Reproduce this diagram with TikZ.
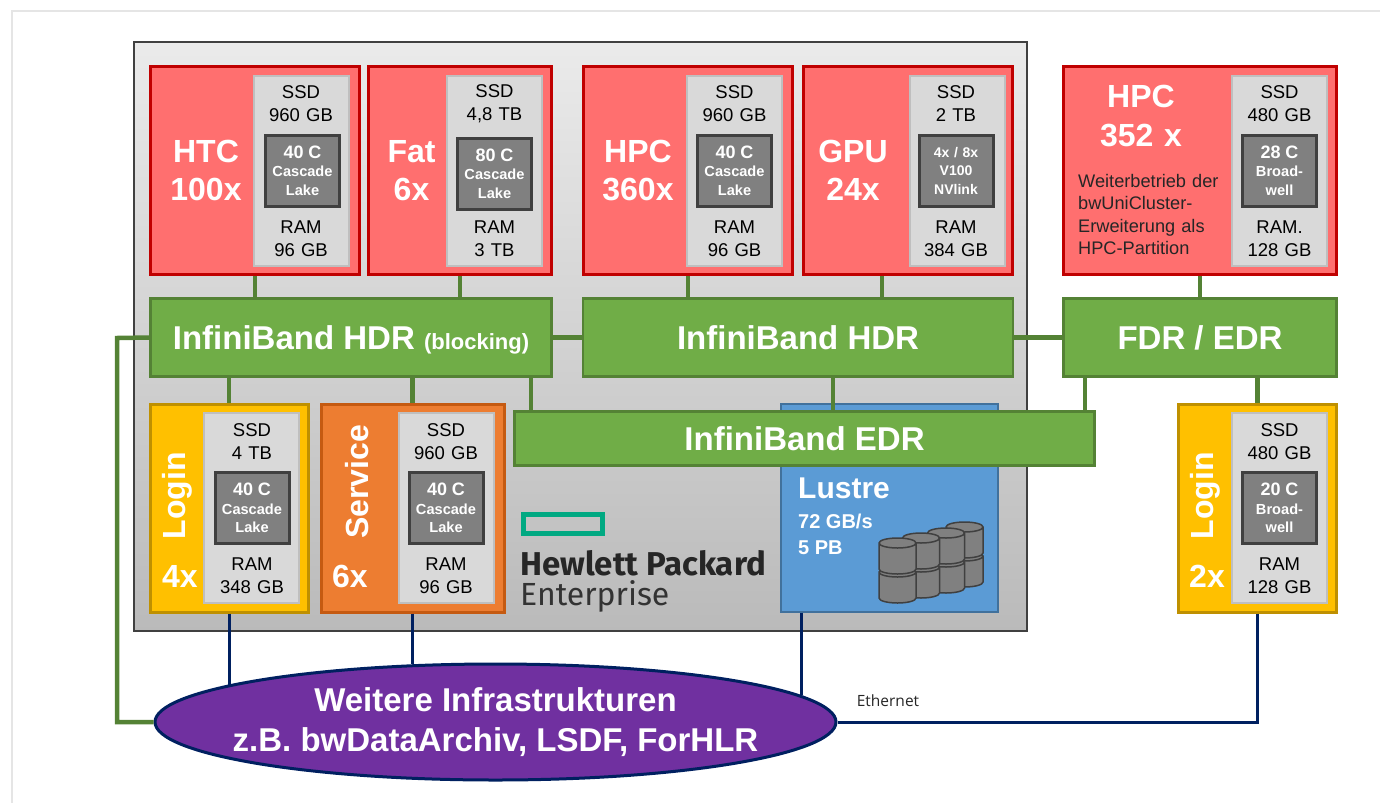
\documentclass[tikz,border=0pt]{standalone}
\usepackage{fontspec}
\setmainfont{Liberation Sans}
\newfontfamily\hpefont{Fira Sans}
\newfontfamily\noteFont{Open Sans}
\usepackage{xcolor}
\usepackage{tikz}
\usetikzlibrary{shapes,arrows}
\definecolor{redFill}{HTML}{FF6F6F}
\definecolor{redEdge}{HTML}{C00000}
\definecolor{greenFill}{HTML}{70AD47}
\definecolor{greenEdge}{HTML}{548235}
\definecolor{navyEdge}{HTML}{002060}
\definecolor{hpeGreen}{HTML}{01A982}
\definecolor{yellowFill}{HTML}{FFC000}
\definecolor{yellowEdge}{HTML}{BF9000}
\definecolor{orangeFill}{HTML}{ED7D31}
\definecolor{orangeEdge}{HTML}{C55A11}
\definecolor{blueFill}{HTML}{5B9BD5}
\definecolor{blueEdge}{HTML}{41719C}
\definecolor{purpleFill}{HTML}{7030A0}
\tikzstyle{rednode} = [rectangle, draw=redEdge, fill=redFill, line width=3pt,
    minimum width=209pt, minimum height=208pt, inner sep=0pt]
\tikzstyle{loginnode} = [rectangle, draw=yellowEdge, fill=yellowFill, line width=3pt,
    minimum width=158pt, minimum height=208pt, inner sep=0pt]
\tikzstyle{panel} = [rectangle, draw=black!25, fill=black!15, line width=2pt,
    minimum width=95pt, minimum height=190pt, inner sep=0pt]
\tikzstyle{cpu} = [rectangle, draw=black!75, fill=black!50, line width=3pt, text=white,
    minimum width=74pt, minimum height=71pt, inner sep=0pt, text width=74pt, text centered,
    font=\fontsize{14.6}{18.5}\selectfont\bfseries]
\tikzstyle{memtext} = [text width=90pt, text centered, inner sep=0pt,
    font=\fontsize{18.5}{23}\selectfont]
\tikzstyle{bigtext} = [text=white, text width=120pt, text centered, inner sep=0pt,
    font=\fontsize{32}{38.5}\selectfont\bfseries]
\tikzstyle{greenblock} = [rectangle, draw=greenEdge, fill=greenFill, line width=2.5pt, text=white,
    inner sep=0pt, text height=24pt, text depth=0pt, font=\fontsize{33}{38}\selectfont\bfseries]
\tikzstyle{disk} = [draw=black!75, fill=black!50, line width=1.5pt]
\tikzstyle{line} = [draw=greenEdge, line width=4.5pt]
\tikzstyle{navyline} = [draw=navyEdge, line width=3pt]
\newcommand{\corecount}[1]{{\fontsize{18}{18}\selectfont #1}}
\newcommand{\drum}[2]{\path [disk, shift={(#1,#2)}] (-18.5,-13) -- (-18.5,13)
    arc [start angle=180, end angle=360, x radius=18.5pt, y radius=5pt] -- (18.5,-13)
    arc [start angle=0, end angle=180, x radius=18.5pt, y radius=5pt] -- cycle
    (-18.5,-13) arc [start angle=180, end angle=360, x radius=18.5pt, y radius=5pt];}

\begin{document}
\begin{tikzpicture}[x=1pt, y=-1pt]
	\useasboundingbox (0,0) rectangle (1380,803);
	\path [draw=black!10, line width=2.5pt] (12,803) |- (1380,11);
	% 
	\node [rectangle, draw=black!75, line width=2pt, top color=black!8, bottom color=black!27,
		minimum width=893pt, minimum height=589pt] (rack) at (580.5,336.5) {};

	% compute nodes
	\node [rednode] (htc) at (255,170.5) {};
	\node [panel, right of=htc, node distance=46pt] (htcPanel) {};
	\node [cpu, right of=htc, node distance=47.5pt] (htcCpu) {\corecount{40 C}\\Cascade\\Lake};
	\node [memtext, above of=htcCpu, node distance=67pt, xshift=-1.5pt] (htcSsd) {SSD\\960 GB};
	\node [memtext, below of=htcCpu, node distance=68pt, xshift=-1.5pt] (htcRam) {RAM\\96 GB};
	\node [bigtext, left of=htcPanel, node distance=95pt] (htcLabel) {HTC\\100x};

	\node [rednode, minimum width=183pt] (fat) at (460,170.5) {};
	\node [panel, right of=fat, node distance=34.5pt] (fatPanel) {};
	\node [cpu, right of=fat, node distance=34.5pt, yshift=-3pt] (fatCpu) {\corecount{80 C}\\Cascade\\Lake};
	\node [memtext, above of=fatCpu, node distance=70pt] (fatSsd) {SSD\\4,8 TB};
	\node [memtext, below of=fatCpu, node distance=65pt] (fatRam) {RAM\\3 TB};
	\node [bigtext, left of=fatPanel, node distance=83pt] (fatLabel) {Fat\\6x};

	\node [rednode] (hpc) at (688,170.5) {};
	\node [panel, right of=hpc, node distance=46pt] (hpcPanel) {};
	\node [cpu, right of=hpc, node distance=46.5pt] (hpcCpu) {\corecount{40 C}\\Cascade\\Lake};
	\node [memtext, above of=hpcCpu, node distance=67pt] (hpcSsd) {SSD\\960 GB};
	\node [memtext, below of=hpcCpu, node distance=68pt] (hpcRam) {RAM\\96 GB};
	\node [bigtext, left of=hpcPanel, node distance=96pt] (hpcLabel) {HPC\\360x};

	\node [rednode] (gpu) at (908,170.5) {};
	\node [panel, right of=gpu, node distance=49pt] (gpuPanel) {};
	\node [cpu, right of=gpu, node distance=48pt, font=\fontsize{14}{18.5}\selectfont\bfseries] (gpuCpu) {4x / 8x\\V100\\NVlink};
	\node [memtext, above of=gpuCpu, node distance=67pt] (gpuSsd) {SSD\\2 TB};
	\node [memtext, below of=gpuCpu, node distance=68pt] (gpuRam) {RAM\\384 GB};
	\node [bigtext, left of=gpuPanel, node distance=104pt] (gpuLabel) {GPU\\24x};

	\node [rednode, minimum width=273pt] (bwuni) at (1200,170.5) {};
	\node [panel, right of=bwuni, node distance=79pt] (bwuniPanel) {};
	\node [cpu, right of=bwuni, node distance=79.5pt] (bwuniCpu) {\corecount{28 C}\\Broad-\\well};
	\node [memtext, above of=bwuniCpu, node distance=67pt] (bwuniSsd) {SSD\\480 GB};
	\node [memtext, below of=bwuniCpu, node distance=68pt] (bwuniRam) {RAM.\\128 GB};
	\node [bigtext] (bwuniLabel) at (1141,116) {HPC\\352 x};
	\node [anchor=west, text width=150pt, inner sep=0pt, text=black!85, font=\fontsize{18.2}{22.3}\selectfont] (bwuniNote) at (1078,214.5)
		{Weiterbetrieb der\\bwUniCluster-\\Erweiterung als\\HPC-Partition};

	% login and service nodes
	\node [loginnode] (login) at (229,508) {};
	\node [panel, right of=login, node distance=22.5pt] (loginPanel) {};
	\node [cpu, right of=login, node distance=23pt] (loginCpu) {\corecount{40 C}\\Cascade\\Lake};
	\node [memtext, above of=loginCpu, node distance=66pt] (loginSsd) {SSD\\4 TB};
	\node [memtext, below of=loginCpu, node distance=68pt] (loginRam) {RAM\\348 GB};
	\node [bigtext, rotate=90] (loginLabel) at (177,496) {Login};
	\node [bigtext] (loginCount) at (180,576) {4x};

	\node [loginnode, draw=orangeEdge, fill=orangeFill, minimum width=183pt] (service) at (412.5,508) {};
	\node [panel, right of=service, node distance=33.5pt] (servicePanel) {};
	\node [cpu, right of=service, node distance=33.5pt] (serviceCpu) {\corecount{40 C}\\Cascade\\Lake};
	\node [memtext, above of=serviceCpu, node distance=66pt] (serviceSsd) {SSD\\960 GB};
	\node [memtext, below of=serviceCpu, node distance=68pt] (serviceRam) {RAM\\96 GB};
	\node [bigtext, rotate=90] (serviceLabel) at (357,482) {Service};
	\node [bigtext] (serviceCount) at (350,576) {6x};

	\node [loginnode] (loginTwo) at (1257.5,508) {};
	\node [panel, right of=loginTwo, node distance=21.5pt] (loginTwoPanel) {};
	\node [cpu, right of=loginTwo, node distance=22pt] (loginTwoCpu) {\corecount{20 C}\\Broad-\\well};
	\node [memtext, above of=loginTwoCpu, node distance=66pt] (loginTwoSsd) {SSD\\480 GB};
	\node [memtext, below of=loginTwoCpu, node distance=68pt] (loginTwoRam) {RAM\\128 GB};
	\node [bigtext, rotate=90] (loginTwoLabel) at (1205,496) {Login};
	\node [bigtext] (loginTwoCount) at (1207,576) {2x};

	% storage
	\node [rectangle, draw=blueEdge, fill=blueFill, line width=2pt,
		minimum width=217pt, minimum height=208pt] (lustre) at (889.5,507.5) {};
	\node [anchor=west, text=white, inner sep=0pt, font=\fontsize{30}{34}\selectfont\bfseries] (lustreTitle) at (798,488) {Lustre};
	\node [anchor=west, text=white, inner sep=0pt, align=left, font=\fontsize{20}{26}\selectfont\bfseries] (lustreInfo) at (798,534) {72 GB/s\\5 PB};
	\drum{964.5}{569}
	\drum{964.5}{540}
	\drum{946}{575}
	\drum{946}{546}
	\drum{921}{580}
	\drum{921}{551}
	\drum{897.5}{585}
	\drum{897.5}{556}

	% logo
	\node [rectangle, draw=hpeGreen, line width=5pt, minimum width=79pt, minimum height=19pt] (hpeLogo) at (562.5,524) {};
	\node [anchor=west, inner sep=0pt, text=black!85, font=\hpefont\fontsize{33}{36}\selectfont\bfseries] (hpeName) at (520,563) {Hewlett Packard};
	\node [anchor=west, inner sep=0pt, text=black!80, font=\hpefont\fontsize{32}{36}\selectfont] (hpeSub) at (520,596) {Enterprise};

	% networks
	\node [greenblock, minimum width=401pt, minimum height=78pt] (hdrBlock) at (351,337.5)
		{InfiniBand HDR {\fontsize{22}{24}\selectfont (blocking)}};
	\node [greenblock, minimum width=430pt, minimum height=78pt] (hdr) at (798,337.5) {InfiniBand HDR};
	\node [greenblock, minimum width=273pt, minimum height=78pt] (fdr) at (1200,337.5) {FDR / EDR};
	\node [greenblock, minimum width=580pt, minimum height=54pt] (edr) at (804.5,438.5) {InfiniBand EDR};

	\node [ellipse, draw=navyEdge, fill=purpleFill, line width=3pt, text=white, minimum width=681pt, minimum height=116pt, inner xsep=-23pt, inner ysep=0pt,
		align=center, font=\fontsize{33}{40}\selectfont\bfseries] (infra) at (495.5,722) {Weitere Infrastrukturen\\z.B. bwDataArchiv, LSDF, ForHLR};
	\node [inner sep=0pt, text=black!85, font=\noteFont\fontsize{15.5}{18}\selectfont] (ethernet) at (888,701) {Ethernet};
	\coordinate (leftBus) at (117,338);

	% Draw edges
	\path [line] (htc) -- (htc |- hdrBlock.north);
	\path [line] (fat) -- (fat |- hdrBlock.north);
	\path [line] (hpc) -- (hpc |- hdr.north);
	\path [line] ([xshift=-26pt]gpu.south) -- ([xshift=-26pt]gpu.south |- hdr.north);
	\path [line] (bwuni.south) -- (fdr.north);
	\path [line] (hdrBlock.east) -- (hdr.west);
	\path [line] (hdr.east) -- (fdr.west);
	\path [line] (hdrBlock.south -| login.north) -- (login.north);
	\path [line] (hdrBlock.south -| service.north) -- (service.north);
	\path [line] ([xshift=180pt]hdrBlock.south) -- ([xshift=180pt]hdrBlock.south |- edr.north);
	\path [line] ([xshift=35pt]hdr.south) -- ([xshift=35pt]hdr.south |- edr.north);
	\path [line] ([xshift=-115pt]fdr.south) -- ([xshift=-115pt]fdr.south |- edr.north);
	\path [line] (fdr.south -| loginTwo.north) -- (loginTwo.north);
	\path [line] (hdrBlock.west) -- (leftBus) |- (infra.west);

	\path [navyline] (login.south) -- (login.south |- infra.172);
	\path [navyline] (service.south) -- (service.south |- infra.146);
	\path [navyline] ([xshift=-88.5pt]lustre.south) -- ([xshift=-88.5pt]lustre.south |- infra.5);
	\path [navyline] (loginTwo.south) |- (infra.east);
%
\end{tikzpicture}
\end{document}
